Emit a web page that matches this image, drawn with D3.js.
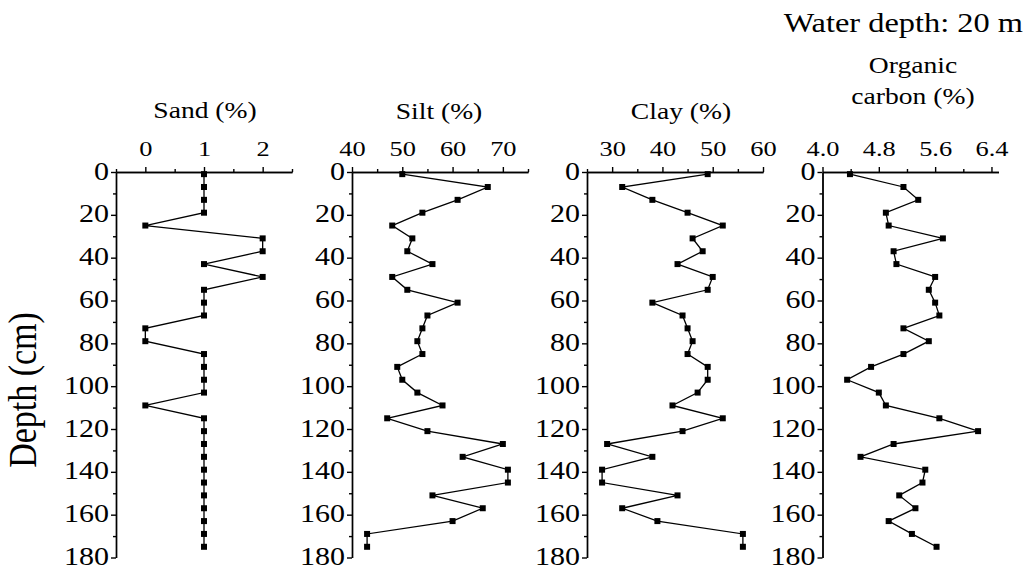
<!DOCTYPE html>
<html>
<head>
<meta charset="utf-8">
<script src="https://cdn.jsdelivr.net/npm/d3@7"></script>
<style>
  body { margin: 0; background: #fff; }
  svg { display: block; }
  text { font-family: "Liberation Serif", "Times New Roman", serif; fill: #000; }
</style>
</head>
<body>
<script>
// sample depths (cm)
var depths = [1, 7, 13, 19, 25, 31, 37, 43, 49, 55, 61, 67, 73, 79, 85, 91, 97, 103, 109, 115, 121, 127, 133, 139, 145, 151, 157, 163, 169, 175];

var sand = [1, 1, 1, 1, 0, 2, 2, 1, 2, 1, 1, 1, 0, 0, 1, 1, 1, 1, 0, 1, 1, 1, 1, 1, 1, 1, 1, 1, 1, 1];
var silt = [50, 67, 61, 54, 48, 52, 51, 56, 48, 51, 61, 55, 54, 53, 54, 49, 50, 53, 58, 47, 55, 70, 62, 71, 71, 56, 66, 60, 43, 43];
var clay = [49, 32, 38, 45, 52, 46, 48, 43, 50, 49, 38, 44, 45, 46, 45, 49, 49, 47, 42, 52, 44, 29, 38, 28, 28, 43, 32, 39, 56, 56];
var organicCarbon = [4.39, 5.15, 5.36, 4.90, 4.94, 5.71, 5.01, 5.05, 5.60, 5.51, 5.60, 5.66, 5.15, 5.51, 5.15, 4.69, 4.35, 4.80, 4.90, 5.66, 6.21, 5.01, 4.54, 5.46, 5.42, 5.09, 5.32, 4.94, 5.27, 5.62];

var sandTicks = [0, 1, 2];
var siltTicks = [40, 50, 60, 70];
var clayTicks = [30, 40, 50, 60];
var ocTicks = [4.0, 4.8, 5.6, 6.4];
var depthTicks = [0, 20, 40, 60, 80, 100, 120, 140, 160, 180];

var W = 1026, H = 570;
var SX = 1.2; // the figure's lettering is drawn a bit wide

var svg = d3.select("body").append("svg").attr("width", W).attr("height", H);

var y = d3.scaleLinear().domain([0, 180]).range([172, 557.5]);

var panels = [
  { title: ["Sand (%)"], titleX: 205, titleY: [118], values: sand, domain: [-0.5, 2.5], ticks: sandTicks, step: 0.5, fmt: d3.format("d"), left: 116 },
  { title: ["Silt (%)"], titleX: 439, titleY: [119], values: silt, domain: [40, 75], ticks: siltTicks, step: 5, fmt: d3.format("d"), left: 352 },
  { title: ["Clay (%)"], titleX: 681, titleY: [119], values: clay, domain: [25, 60], ticks: clayTicks, step: 5, fmt: d3.format("d"), left: 587 },
  { title: ["Organic", "carbon (%)"], titleX: 913, titleY: [73, 104], values: organicCarbon, domain: [4.0, 6.5], ticks: ocTicks, step: 0.4, fmt: d3.format(".1f"), left: 822.5 }
];

var panelWidth = 176;

function stretch(sel, gap) {
  sel.attr("transform", "scale(" + SX + ",1)");
  if (gap !== undefined) sel.attr("x", -gap / SX);
}

panels.forEach(function(p) {
  var x = d3.scaleLinear().domain(p.domain).range([p.left, p.left + panelWidth]);
  var g = svg.append("g");

  // minor ticks on top axis
  var minor = d3.range(p.domain[0], p.domain[1] + 1e-9, p.step).filter(function(v) {
    return !p.ticks.some(function(t) { return Math.abs(t - v) < 1e-6; });
  });
  g.append("g").attr("transform", "translate(0," + y(0) + ")")
    .call(d3.axisTop(x).tickValues(minor).tickSize(3).tickSizeOuter(0).tickFormat(""))
    .call(function(a) { a.selectAll("line, path").attr("stroke", "#000").attr("stroke-width", 1.4); });

  var top = g.append("g").attr("transform", "translate(0," + y(0) + ")")
    .call(d3.axisTop(x).tickValues(p.ticks).tickSize(5).tickSizeOuter(0).tickPadding(11).tickFormat(p.fmt));
  top.selectAll("line, path").attr("stroke", "#000").attr("stroke-width", 1.4);
  top.selectAll("text").attr("font-size", 22).attr("fill", "#000")
    .style("font-family", "'Liberation Serif', 'Times New Roman', serif");
  stretch(top.selectAll("text"));

  // depth axis
  var minorY = d3.range(10, 180, 20);
  g.append("g").attr("transform", "translate(" + p.left + ",0)")
    .call(d3.axisLeft(y).tickValues(minorY).tickSize(3).tickSizeOuter(0).tickFormat(""))
    .call(function(a) { a.selectAll("line, path").attr("stroke", "#000").attr("stroke-width", 1.4); });

  var left = g.append("g").attr("transform", "translate(" + p.left + ",0)")
    .call(d3.axisLeft(y).tickValues(depthTicks).tickSize(5).tickSizeOuter(0).tickFormat(d3.format("d")));
  left.selectAll("line, path").attr("stroke", "#000").attr("stroke-width", 1.4);
  left.selectAll("text").attr("font-size", 25).attr("fill", "#000").attr("dy", "0.28em")
    .style("font-family", "'Liberation Serif', 'Times New Roman', serif");
  stretch(left.selectAll("text"), 7);

  // profile line
  var line = d3.line()
    .x(function(d) { return x(d.v); })
    .y(function(d) { return y(d.depth); });
  var pts = p.values.map(function(v, i) { return { v: v, depth: depths[i] }; });

  g.append("path").datum(pts)
    .attr("d", line)
    .attr("fill", "none")
    .attr("stroke", "#000")
    .attr("stroke-width", 1.3);

  g.selectAll("rect.pt").data(pts).enter().append("rect")
    .attr("class", "pt")
    .attr("x", function(d) { return x(d.v) - 3; })
    .attr("y", function(d) { return y(d.depth) - 3; })
    .attr("width", 6)
    .attr("height", 6)
    .attr("fill", "#000");

  // title
  p.title.forEach(function(t, i) {
    g.append("g").attr("transform", "translate(" + p.titleX + "," + p.titleY[i] + ") scale(" + SX + ",1)")
      .append("text")
      .attr("text-anchor", "middle")
      .attr("font-size", 23)
      .text(t);
  });
});

svg.append("g").attr("transform", "translate(1023,32) scale(" + SX + ",1)")
  .append("text")
  .attr("text-anchor", "end")
  .attr("font-size", 27)
  .text("Water depth: 20 m");

svg.append("g").attr("transform", "translate(36,390) rotate(-90) scale(1,1.15)")
  .append("text")
  .attr("text-anchor", "middle")
  .attr("font-size", 34)
  .text("Depth (cm)");
</script>
</body>
</html>
